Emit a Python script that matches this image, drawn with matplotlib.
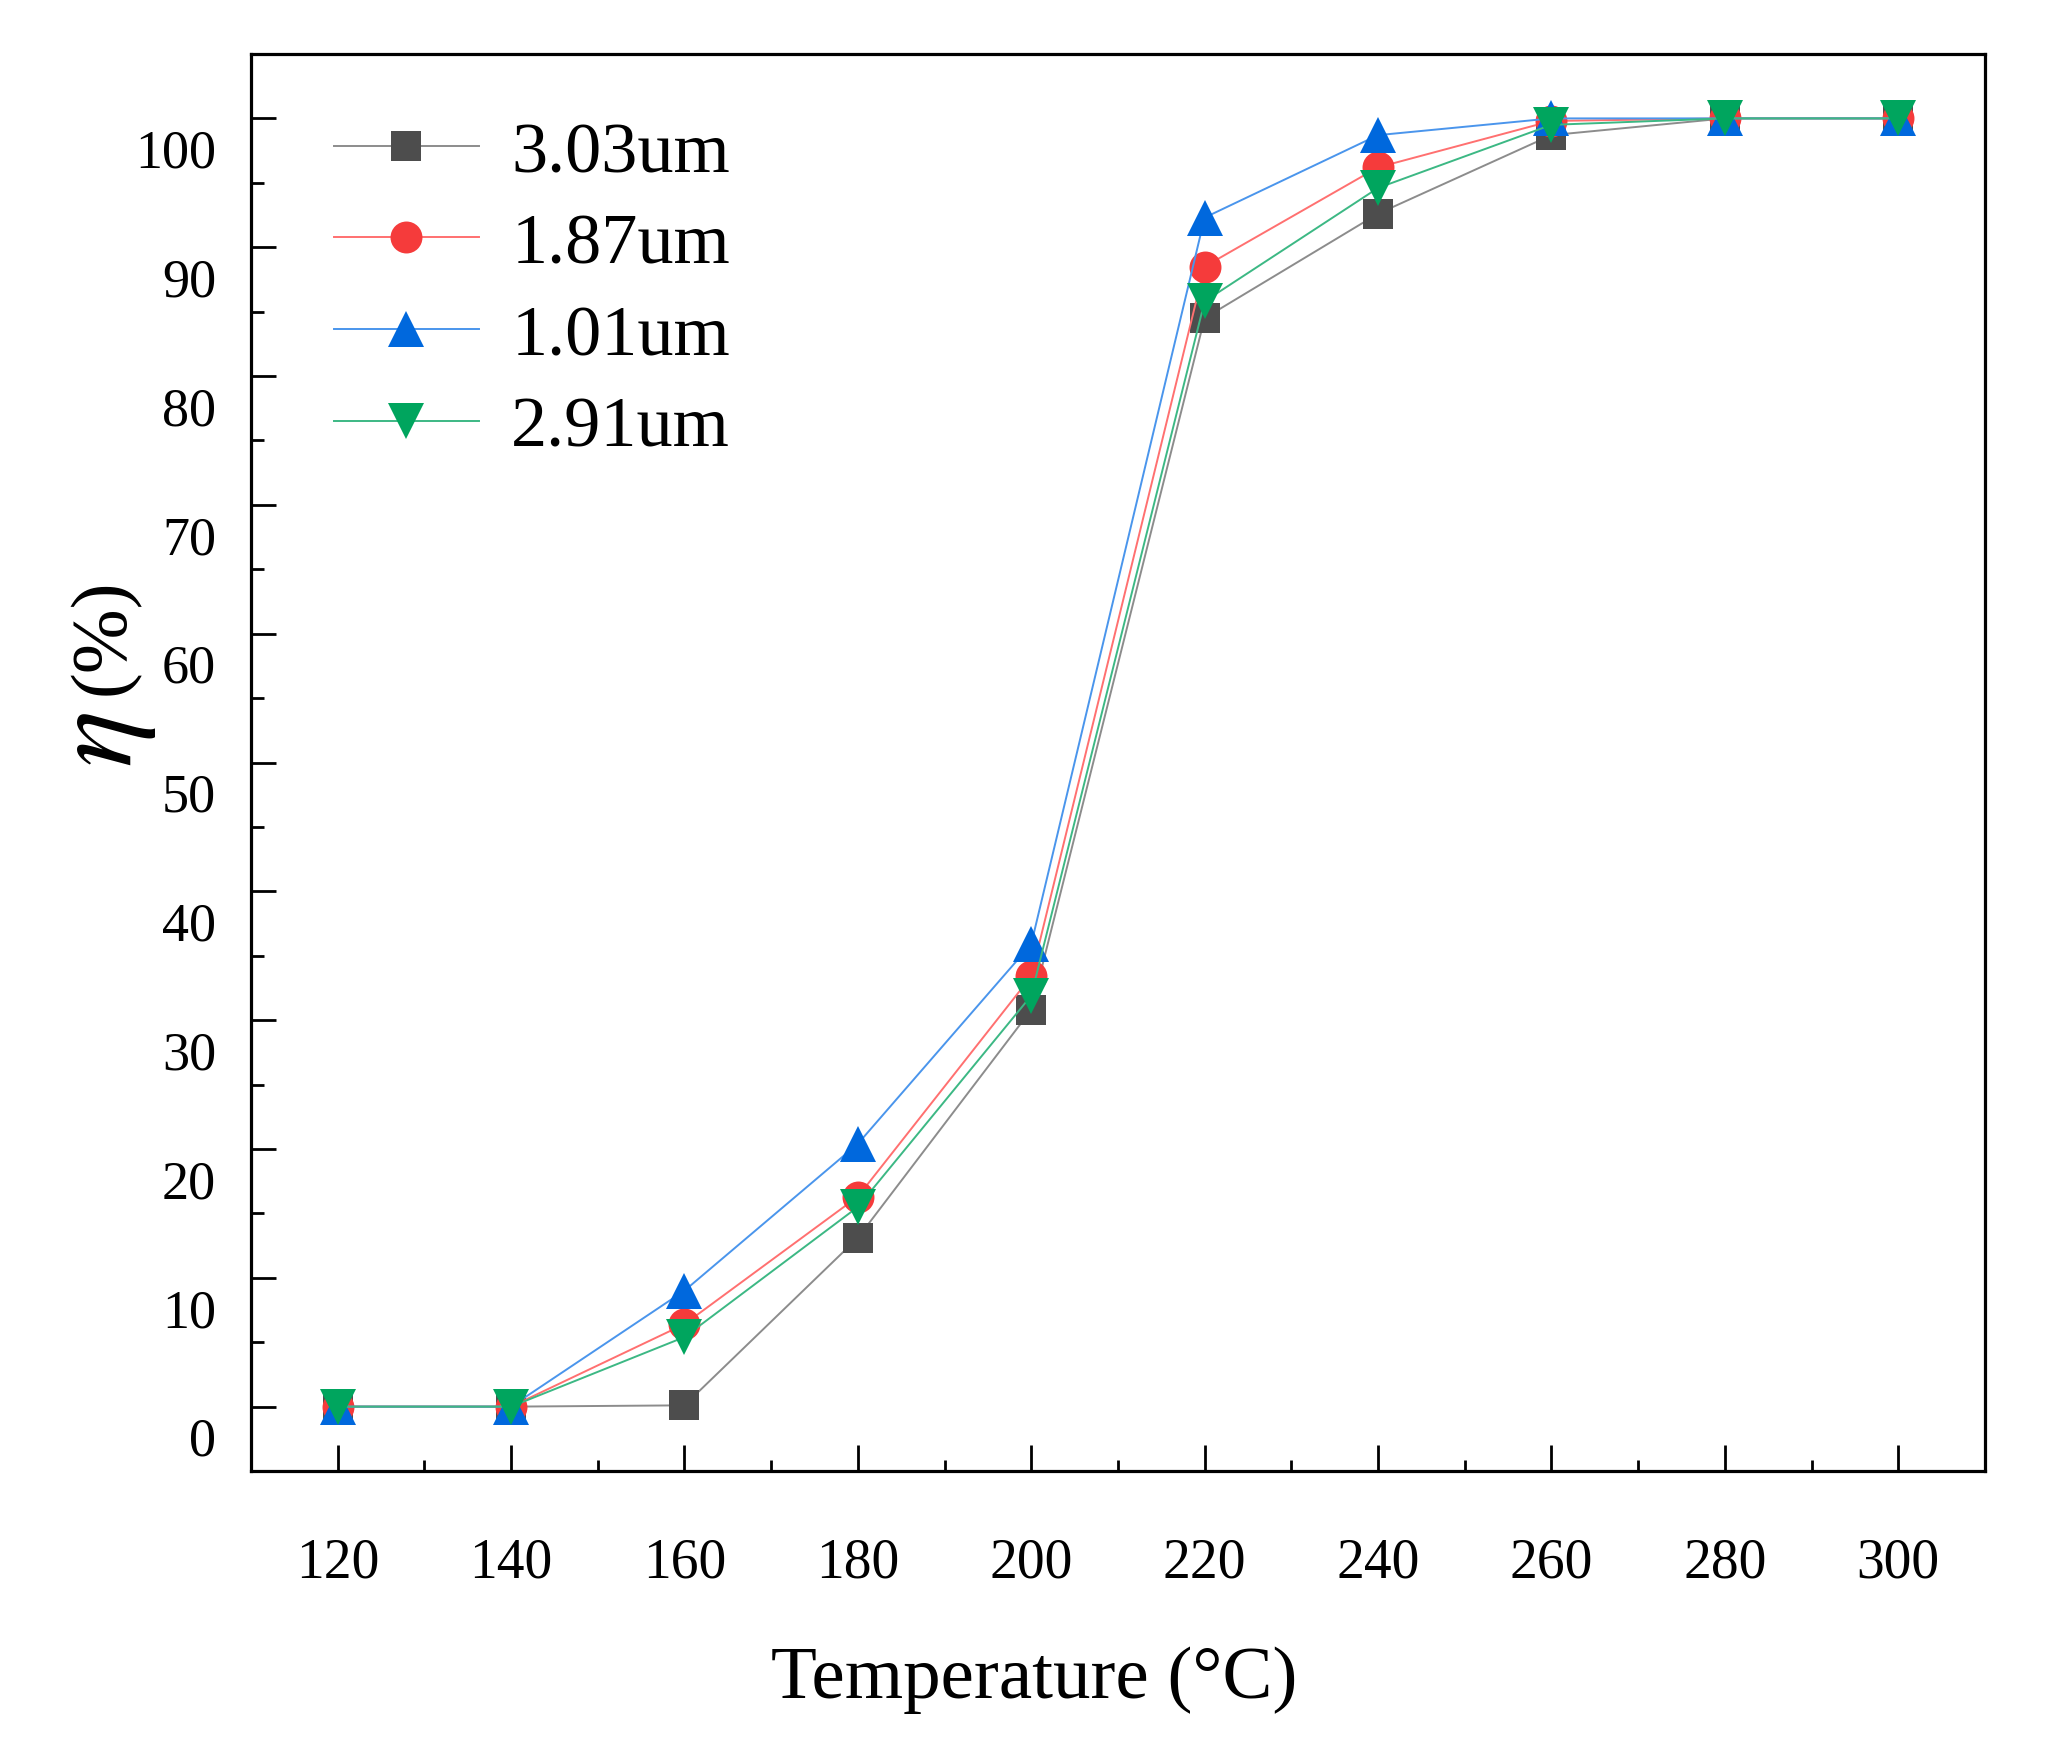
import matplotlib
matplotlib.use('Agg')
import matplotlib.pyplot as plt
from matplotlib.transforms import ScaledTranslation

plt.rcParams['font.family'] = ['Liberation Serif', 'DejaVu Serif']
plt.rcParams['mathtext.fontset'] = 'stix'

temps = [120, 140, 160, 180, 200, 220, 240, 260, 280, 300]
eta_303 = [0, 0, 0.1, 13.1, 30.8, 84.5, 92.6, 98.7, 100, 100]
eta_187 = [0, 0, 6.4, 16.3, 33.4, 88.5, 96.2, 99.8, 100, 100]
eta_101 = [0, 0, 9.0, 20.4, 35.9, 92.3, 98.7, 100, 100, 100]
eta_291 = [0, 0, 5.4, 15.5, 31.9, 85.8, 94.6, 99.5, 100, 100]

labels = ['3.03um', '1.87um', '1.01um', '2.91um']
series = [eta_303, eta_187, eta_101, eta_291]
markers = ['s', 'o', '^', 'v']
msizes = [21.5, 23, 26.5, 26.5]
face_colors = ['#4D4D4D', '#F53B3B', '#0068DD', '#00A55E']
line_colors = ['#8C8C8C', '#FF7070', '#4A95EC', '#3CB884']

fig = plt.figure(figsize=(20.52, 17.40), dpi=100)
ax = fig.add_axes([0.1223, 0.154, 0.845, 0.8144])

for y, lab, m, ms, fc, lc in zip(series, labels, markers, msizes, face_colors, line_colors):
    ax.plot(temps, y, color=lc, linewidth=1.4, marker=m, markersize=ms,
            markerfacecolor=fc, markeredgewidth=0, label=lab)

ax.set_xlim(110, 310)
ax.set_ylim(-5, 105)
ax.set_xticks(range(120, 301, 20))
ax.set_xticks(range(130, 301, 20), minor=True)
ax.set_yticks(range(0, 101, 10))
ax.set_yticks(range(5, 101, 10), minor=True)

for s in ax.spines.values():
    s.set_linewidth(2.3)

ax.tick_params(axis='both', which='both', direction='in', width=2.0,
               top=False, right=False)
ax.tick_params(axis='x', which='major', length=19, pad=47, labelsize=40)
ax.tick_params(axis='x', which='minor', length=8)
ax.tick_params(axis='y', which='major', length=18, pad=25, labelsize=39)
ax.tick_params(axis='y', which='minor', length=9)

# y tick labels in the original sit a bit below their ticks
shift = ScaledTranslation(0, -0.29, fig.dpi_scale_trans)
for t in ax.yaxis.get_major_ticks():
    t.label1.set_transform(t.label1.get_transform() + shift)

ax.set_xlabel('Temperature (°C)', fontsize=54)
ax.xaxis.set_label_coords(0.4515, -0.147)
ax.xaxis.label.set_va('center')

fig.text(0.051, 0.575, r'$\eta$', fontsize=86, rotation=90, ha='center', va='center')
fig.text(0.051, 0.634, '(%)', fontsize=56, rotation=90, ha='center', va='center')

ax.legend(loc='upper left', bbox_to_anchor=(0.048, 0.953), frameon=False,
          fontsize=52, handlelength=2.0, handletextpad=0.45, labelspacing=0.36,
          borderpad=0, borderaxespad=0)

fig.savefig('out.png', dpi=100)
